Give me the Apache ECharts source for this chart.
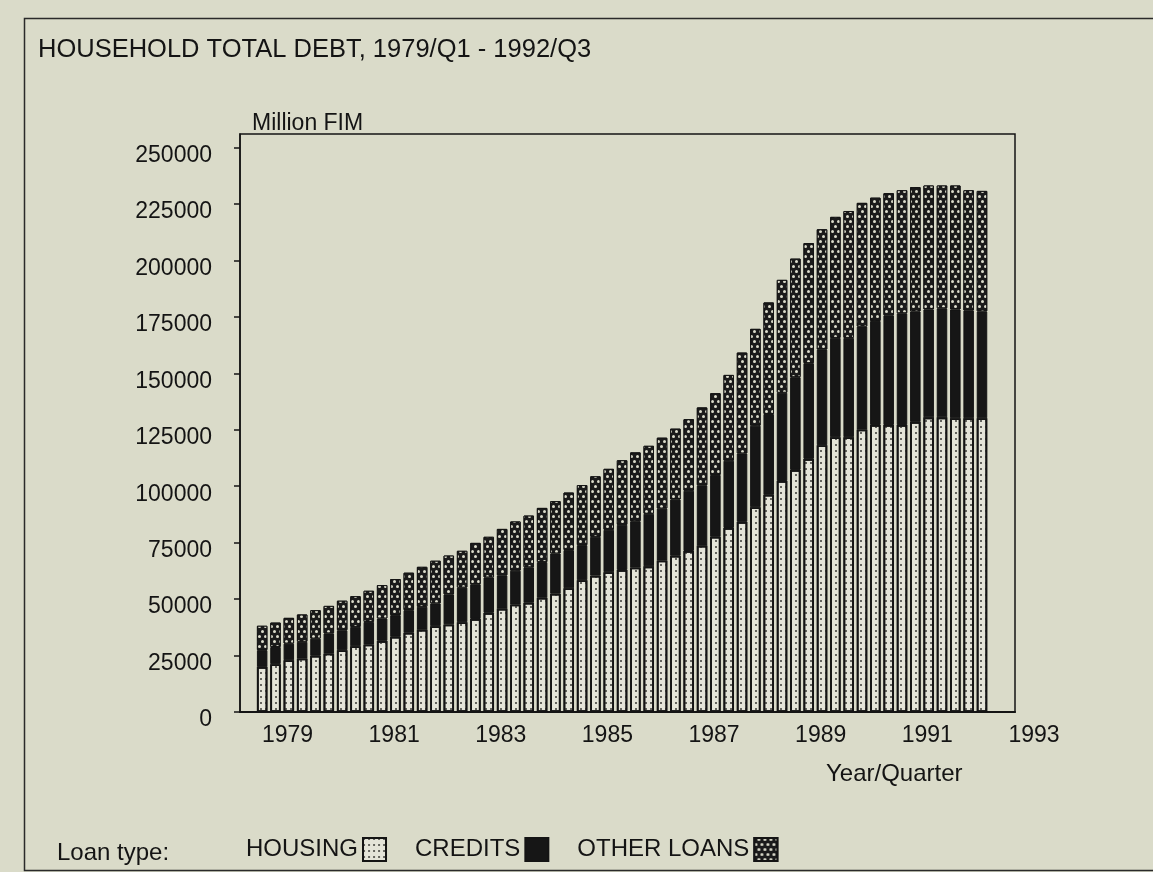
<!DOCTYPE html>
<html>
<head>
<meta charset="utf-8">
<script src="https://cdn.jsdelivr.net/npm/echarts@6/dist/echarts.min.js"></script>
<style>
  html, body { margin: 0; padding: 0; background: #dadbc9; }
  #chart { width: 1153px; height: 872px; }
</style>
</head>
<body>
<div id="chart"></div>
<script>
// ---- data (million FIM) ----
const quarters = [
  '1979/Q1','1979/Q2','1979/Q3','1979/Q4','1980/Q1','1980/Q2','1980/Q3','1980/Q4',
  '1981/Q1','1981/Q2','1981/Q3','1981/Q4','1982/Q1','1982/Q2','1982/Q3','1982/Q4',
  '1983/Q1','1983/Q2','1983/Q3','1983/Q4','1984/Q1','1984/Q2','1984/Q3','1984/Q4',
  '1985/Q1','1985/Q2','1985/Q3','1985/Q4','1986/Q1','1986/Q2','1986/Q3','1986/Q4',
  '1987/Q1','1987/Q2','1987/Q3','1987/Q4','1988/Q1','1988/Q2','1988/Q3','1988/Q4',
  '1989/Q1','1989/Q2','1989/Q3','1989/Q4','1990/Q1','1990/Q2','1990/Q3','1990/Q4',
  '1991/Q1','1991/Q2','1991/Q3','1991/Q4','1992/Q1','1992/Q2','1992/Q3'
];
const housing = [
  20000, 21200, 22900, 23700, 24900, 25900, 27400, 29100,
  29900, 31500, 33300, 35100, 36500, 38000, 38800, 39800,
  41200, 43900, 45800, 47600, 48400, 50600, 52400, 54800,
  58400, 60400, 61900, 62900, 64000, 64500, 67100, 69200,
  71300, 73700, 77600, 81500, 84200, 90700, 96200, 102300,
  107200, 112100, 118200, 121700, 121700, 125100, 127100, 127100,
  127100, 128500, 130500, 130500, 130100, 130100, 130100
];
const credits = [
  7400, 7600, 7400, 7400, 7600, 8900, 8800, 8600,
  10000, 9900, 9600, 10000, 10100, 10100, 13300, 15300,
  15400, 15700, 14700, 15000, 15700, 15800, 17800, 16900,
  15500, 17200, 18800, 20000, 20500, 23300, 23000, 24900,
  26700, 26700, 27400, 29800, 30300, 36100, 35800, 39100,
  41100, 42400, 42300, 44000, 44000, 45600, 46100, 48600,
  49500, 48900, 47800, 48300, 48200, 47700, 47300
];
const otherLoans = [
  10800, 10800, 11400, 12100, 12600, 12200, 13100, 13600,
  13800, 14800, 16000, 16600, 17700, 18900, 17200, 16300,
  18300, 18000, 20600, 21800, 22900, 24000, 23200, 25500,
  26600, 26800, 27000, 28600, 30500, 30100, 31400, 31400,
  31700, 34500, 36200, 38000, 44700, 42900, 49400, 50000,
  52500, 53200, 53300, 53600, 56200, 54800, 54600, 54100,
  54500, 55100, 54900, 54400, 54900, 53300, 53400
];
const yTicks = [0, 25000, 50000, 75000, 100000, 125000, 150000, 175000, 200000, 225000, 250000];
const yearLabels = [1979, 1981, 1983, 1985, 1987, 1989, 1991, 1993];
const seriesNames = ['HOUSING', 'CREDITS', 'OTHER LOANS'];

const FONT = 'Liberation Sans';
const INK = '#141414';
const BG = '#dadbc9';

// layout (pixels)
const plotLeft = 240, plotTop = 134, plotBottom = 160, plotWidth = 775;
const slot = 13.33;                       // width of one quarter
const barsLeft = 255.5;                   // left edge of first quarter slot
const pxPerYear = slot * 4;
const labelWidth = 860;
const yMax = 256000;
// year scale used only for the year labels under the axis
const xMin = 1979 - (barsLeft - plotLeft) / pxPerYear;

const chart = echarts.init(document.getElementById('chart'), null, { renderer: 'canvas' });

const option = {
  backgroundColor: BG,
  animation: false,
  textStyle: { fontFamily: FONT, color: INK },
  title: [
    { text: 'HOUSEHOLD TOTAL DEBT, 1979/Q1 - 1992/Q3', left: 33, top: 32,
      textStyle: { fontFamily: FONT, fontSize: 25.5, fontWeight: 'normal', color: INK } },
    { text: 'Loan type:', left: 52, top: 836,
      textStyle: { fontFamily: FONT, fontSize: 24, fontWeight: 'normal', color: INK } },
    { text: 'Year/Quarter', left: 821, top: 757,
      textStyle: { fontFamily: FONT, fontSize: 24, fontWeight: 'normal', color: INK } }
  ],
  legend: {
    data: seriesNames,
    left: 241, top: 832,
    align: 'right',
    icon: 'rect',
    itemWidth: 23, itemHeight: 23, itemGap: 28,
    selectedMode: false,
    textStyle: { fontFamily: FONT, fontSize: 24, color: INK }
  },
  graphic: [
    { type: 'rect', left: 22, top: 16, silent: true,
      shape: { width: 1200, height: 852 },
      style: { fill: 'none', stroke: '#2a2a2a', lineWidth: 1.5 } }
  ],
  grid: [
    { left: plotLeft, top: plotTop, width: plotWidth, bottom: plotBottom, show: true,
      borderColor: INK, borderWidth: 1.5, backgroundColor: 'transparent' },
    { left: plotLeft, top: plotTop, width: labelWidth, bottom: plotBottom, show: false },
    { left: barsLeft, top: plotTop, width: slot * quarters.length, bottom: plotBottom, show: false }
  ],
  xAxis: [
    { gridIndex: 0, type: 'value', min: 0, max: 1,
      axisLine: { show: true, onZero: false, lineStyle: { color: INK, width: 2 } },
      axisTick: { show: false }, axisLabel: { show: false }, splitLine: { show: false } },
    { gridIndex: 1, type: 'value', min: xMin, max: xMin + labelWidth / pxPerYear,
      axisLine: { show: false }, axisTick: { show: false }, splitLine: { show: false },
      axisLabel: {
        customValues: yearLabels.map(y => y + 0.6),
        formatter: v => String(Math.floor(v)),
        fontFamily: FONT, fontSize: 23, color: INK, margin: 12
      } },
    { gridIndex: 2, type: 'category', data: quarters, boundaryGap: true, show: false }
  ],
  yAxis: [
    { gridIndex: 0, type: 'value', min: 0, max: yMax,
      name: 'Million FIM', nameLocation: 'end', nameGap: -1,
      nameTextStyle: { fontFamily: FONT, fontSize: 23, color: INK, align: 'left',
        verticalAlign: 'bottom', padding: [0, 0, 0, 12] },
      axisLine: { show: true, lineStyle: { color: INK, width: 1.5 } },
      axisTick: { show: true, inside: false, length: 6, customValues: yTicks,
        lineStyle: { color: INK, width: 1.5 } },
      axisLabel: { customValues: yTicks, formatter: v => String(v),
        fontFamily: FONT, fontSize: 23, color: INK, margin: 28,
        verticalAlign: 'top', lineHeight: 16, padding: [0, 0, 0, 0] },
      splitLine: { show: false } },
    { gridIndex: 1, type: 'value', min: 0, max: yMax, show: false },
    { gridIndex: 2, type: 'value', min: 0, max: yMax, show: false }
  ],
  series: [
    { name: 'HOUSING', type: 'bar', stack: 'debt', xAxisIndex: 2, yAxisIndex: 2,
      barWidth: 10.5, data: housing,
      itemStyle: { color: '#e4e4d8', borderColor: INK, borderWidth: 1.8,
        decal: { symbol: 'circle', symbolSize: 1, color: '#3a3a36',
          dashArrayX: [1.7, 2.6], dashArrayY: [1.7, 3.2] } } },
    { name: 'CREDITS', type: 'bar', stack: 'debt', xAxisIndex: 2, yAxisIndex: 2,
      barWidth: 10.5, data: credits,
      itemStyle: { color: '#161616', borderColor: INK, borderWidth: 1 } },
    { name: 'OTHER LOANS', type: 'bar', stack: 'debt', xAxisIndex: 2, yAxisIndex: 2,
      barWidth: 10.5, data: otherLoans,
      itemStyle: { color: '#1b1b1b', borderColor: INK, borderWidth: 1,
        decal: { symbol: 'circle', symbolSize: 1, color: '#dcdccc',
          dashArrayX: [[2.4, 2.2], [0, 2.3, 2.4, 0]], dashArrayY: [2.4, 1.8] } } }
  ]
};

chart.setOption(option);
</script>
</body>
</html>
